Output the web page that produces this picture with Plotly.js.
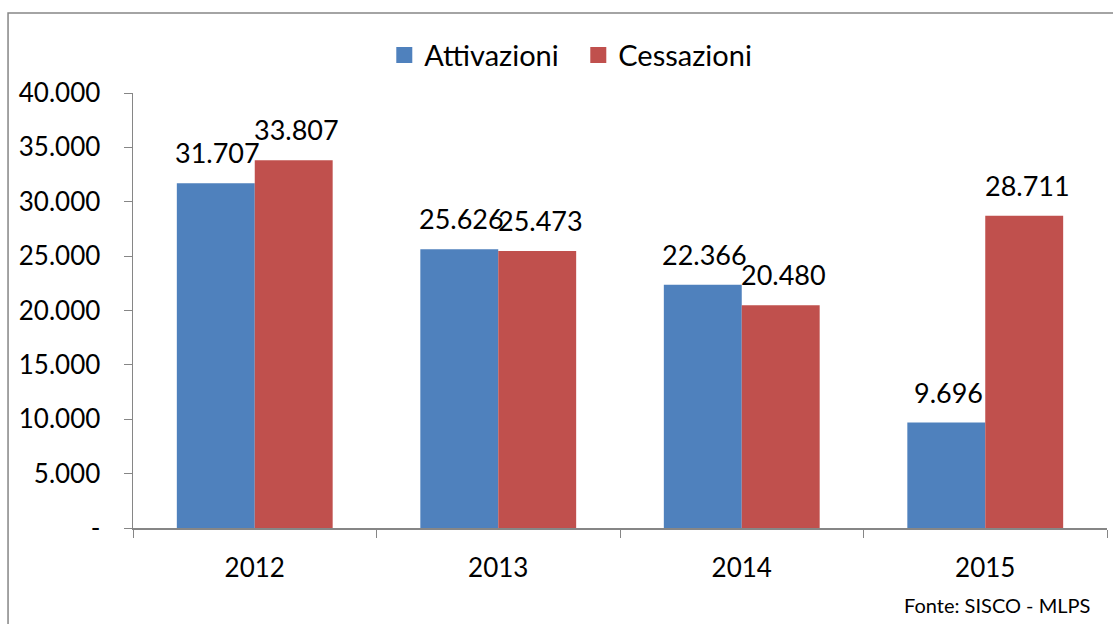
<!DOCTYPE html>
<html>
<head>
<meta charset="utf-8">
<script src="https://cdn.plot.ly/plotly-3.0.1.min.js"></script>
<style>html,body{margin:0;padding:0;background:#fff;}#chart{width:1113px;height:624px;}</style>
</head>
<body>
<div id="chart"></div>
<script>
const years = ['2012', '2013', '2014', '2015'];
const attivazioni = [31707, 25626, 22366, 9696];
const cessazioni = [33807, 25473, 20480, 28711];
const yTickVals = [0, 5000, 10000, 15000, 20000, 25000, 30000, 35000, 40000];
const yTickText = ['-', '5.000', '10.000', '15.000', '20.000', '25.000', '30.000', '35.000', '40.000'];
const seriesNames = ['Attivazioni', 'Cessazioni'];
const seriesColors = ['#4F81BD', '#C0504D'];

function fmt(v) {
  return String(v).replace(/\B(?=(\d{3})+(?!\d))/g, '.');
}

const FONT = 'Lato, "Open Sans", sans-serif';

const traces = [
  {
    type: 'bar', name: seriesNames[0], x: years, y: attivazioni,
    marker: {color: seriesColors[0]}, showlegend: false
  },
  {
    type: 'bar', name: seriesNames[1], x: years, y: cessazioni,
    marker: {color: seriesColors[1]}, showlegend: false
  },
  {
    type: 'scatter', mode: 'markers', name: seriesNames[0], x: [null], y: [null],
    marker: {symbol: 'square', size: 18, color: seriesColors[0]}, showlegend: true
  },
  {
    type: 'scatter', mode: 'markers', name: seriesNames[1], x: [null], y: [null],
    marker: {symbol: 'square', size: 18, color: seriesColors[1]}, showlegend: true
  }
];

// value labels above the bars (x = category index)
const labelAnns = [];
[attivazioni, cessazioni].forEach((series, si) => {
  series.forEach((v, i) => {
    labelAnns.push({
      x: i, y: v, xref: 'x', yref: 'y', text: fmt(v), showarrow: false,
      xanchor: 'center', yanchor: 'bottom', xshift: si === 0 ? -37 : 42, yshift: 12,
      font: {family: FONT, size: 27, color: '#000'}
    });
  });
});

const layout = {
  width: 1113, height: 624,
  margin: {l: 133, r: 6, t: 93, b: 96},
  paper_bgcolor: '#fff', plot_bgcolor: '#fff',
  font: {family: FONT, size: 26, color: '#000'},
  barmode: 'group', bargap: 0.36, bargroupgap: 0,
  showlegend: true,
  legend: {orientation: 'h', x: 0.258, xanchor: 'left', y: 1.087, yanchor: 'middle',
           bgcolor: 'rgba(0,0,0,0)', entrywidth: 149,
           font: {family: FONT, size: 29, color: '#000'}, itemwidth: 30, tracegroupgap: 0},
  xaxis: {
    type: 'category', range: [-0.5, 3.5], autorange: false,
    tickson: 'boundaries', ticks: 'outside', ticklen: 8,
    tickcolor: '#868686', showline: true, linecolor: '#868686', linewidth: 1.5,
    showgrid: false, tickfont: {family: FONT, size: 26}, zeroline: false,
    ticklabelstandoff: 16
  },
  yaxis: {
    range: [0, 40000], autorange: false, tickvals: yTickVals, ticktext: yTickText,
    ticks: 'outside', ticklen: 8, tickcolor: '#868686', showline: true,
    linecolor: '#868686', linewidth: 1.5, showgrid: false, zeroline: false,
    tickfont: {family: FONT, size: 26}, ticklabelstandoff: 18
  },
  shapes: [{
    type: 'rect', xref: 'paper', yref: 'paper',
    x0: -0.1283, x1: 1.05, y0: -0.4, y1: 1.1839,
    line: {color: '#868686', width: 1.5}, fillcolor: 'rgba(0,0,0,0)', layer: 'below'
  }],
  annotations: labelAnns.concat([{
    text: 'Fonte: SISCO - MLPS', xref: 'paper', yref: 'paper',
    x: 0.985, y: -0.177, xanchor: 'right', yanchor: 'middle', showarrow: false,
    font: {family: FONT, size: 20, color: '#000'}
  }])
};

Plotly.newPlot('chart', traces, layout, {displayModeBar: false, staticPlot: true});
</script>
</body>
</html>
